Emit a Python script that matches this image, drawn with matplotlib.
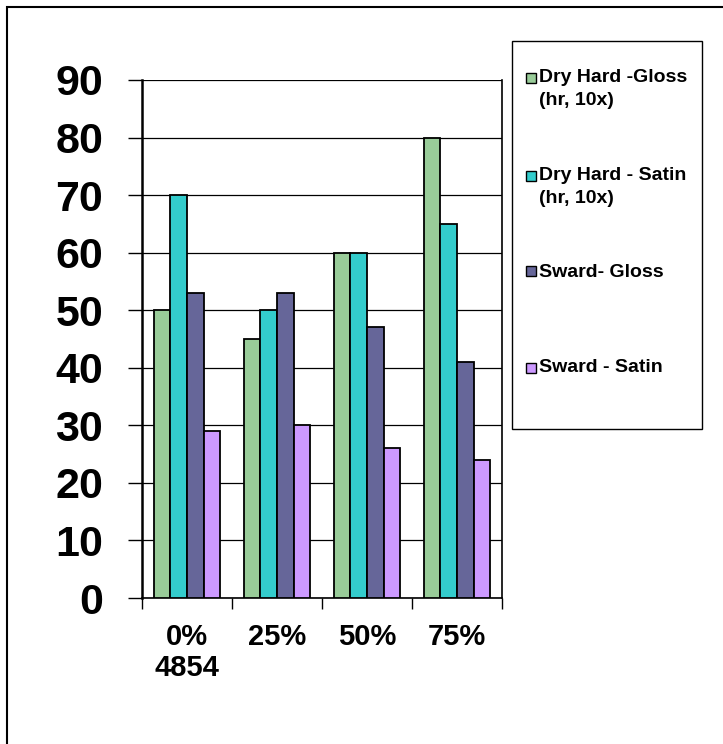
import numpy as np
import matplotlib
matplotlib.use('Agg')
import matplotlib.pyplot as plt
from matplotlib.patches import Rectangle

plt.rcParams['font.family'] = ['Liberation Sans', 'DejaVu Sans']
plt.rcParams['font.weight'] = 'bold'

categories = ['0%\n4854', '25%', '50%', '75%']
series_names = ['Dry Hard -Gloss\n(hr, 10x)', 'Dry Hard - Satin\n(hr, 10x)',
                'Sward- Gloss', 'Sward - Satin']
dry_gloss = [50, 45, 60, 80]
dry_satin = [70, 50, 60, 65]
sward_gloss = [53, 53, 47, 41]
sward_satin = [29, 30, 26, 24]
colors = ['#99CC99', '#33CCCC', '#666699', '#CC99FF']

W, H = 723, 744
fig = plt.figure(figsize=(W / 100, H / 100), dpi=100)
ax = fig.add_axes([142 / W, 1 - 598 / H, 360 / W, 518 / H])

x = np.arange(len(categories))
bw = 0.186
for k, vals in enumerate([dry_gloss, dry_satin, sward_gloss, sward_satin]):
    ax.bar(x + (k - 1.5) * bw, vals, bw, color=colors[k], edgecolor='black',
           linewidth=1.3, zorder=3)

ax.set_xlim(-0.5, 3.5)
ax.set_ylim(0, 90)
ax.set_yticks(range(0, 91, 10))
ax.yaxis.grid(True, color='black', linewidth=0.9, zorder=0)
ax.tick_params(axis='y', labelsize=31, length=10, width=1, pad=18)
ax.set_xticks(x)
ax.set_xticklabels(categories, fontsize=21, linespacing=1.12)
ax.tick_params(axis='x', which='major', length=0, pad=18)
ax.set_xticks(np.arange(-0.5, 3.6, 1), minor=True)
ax.tick_params(axis='x', which='minor', length=8, width=1)
for lab in ax.get_xticklabels() + ax.get_yticklabels():
    lab.set_fontweight('bold')
ax.spines['top'].set_visible(False)
ax.spines['left'].set_linewidth(1.8)
ax.spines['bottom'].set_linewidth(1.2)
ax.spines['right'].set_linewidth(1.2)

# legend box, drawn by hand so its size matches the original
fig.patches.append(Rectangle((512 / W, 1 - 429 / H), 190 / W, 388 / H,
                             transform=fig.transFigure, fill=False,
                             edgecolor='black', linewidth=1))
cap_tops = [72, 170, 266, 362]
for k, name in enumerate(series_names):
    fig.patches.append(Rectangle((526 / W, 1 - (cap_tops[k] + 10.5) / H), 10 / W, 10 / H,
                                 transform=fig.transFigure, facecolor=colors[k],
                                 edgecolor='black', linewidth=1))
    fig.text(539 / W, 1 - (cap_tops[k] - 2.5) / H, name, fontsize=14, fontweight='bold',
             va='top', ha='left', linespacing=1.4)

# outer chart border (only left and top visible)
fig.patches.append(Rectangle((7 / W, -0.1), 1.2, 1.1 - 7.5 / H,
                             transform=fig.transFigure, fill=False,
                             edgecolor='black', linewidth=1.5))

fig.savefig('out.png', dpi=100)
